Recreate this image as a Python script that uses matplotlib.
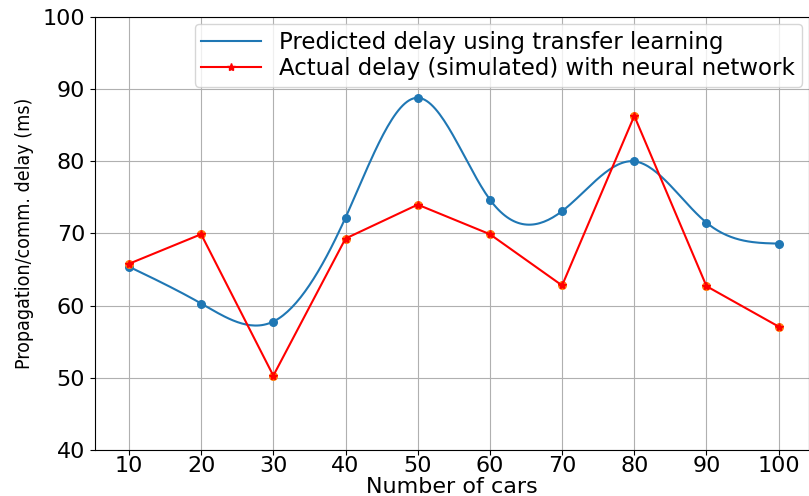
import numpy as np
import matplotlib
matplotlib.use("Agg")
import matplotlib.pyplot as plt

cars = [10, 20, 30, 40, 50, 60, 70, 80, 90, 100]
predicted_delay = [65.4, 60.3, 57.8, 72.2, 88.8, 74.7, 73.1, 80.0, 71.5, 68.6]
actual_delay = [65.8, 69.9, 50.3, 69.3, 74.0, 69.9, 62.8, 86.3, 62.7, 57.1]


def smooth_curve(x, y, num=300):
    # natural cubic spline through evenly spaced points
    x = np.asarray(x, float)
    y = np.asarray(y, float)
    n = len(x)
    h = x[1] - x[0]
    A = np.zeros((n, n))
    b = np.zeros(n)
    A[0, 0] = 1
    A[-1, -1] = 1
    for i in range(1, n - 1):
        A[i, i - 1:i + 2] = [1, 4, 1]
        b[i] = 6.0 / h**2 * (y[i - 1] - 2 * y[i] + y[i + 1])
    M = np.linalg.solve(A, b)
    xs = np.linspace(x[0], x[-1], num)
    idx = np.clip(((xs - x[0]) // h).astype(int), 0, n - 2)
    x0, x1 = x[idx], x[idx + 1]
    ys = (M[idx] * (x1 - xs)**3 / (6 * h) + M[idx + 1] * (xs - x0)**3 / (6 * h)
          + (y[idx] / h - M[idx] * h / 6) * (x1 - xs)
          + (y[idx + 1] / h - M[idx + 1] * h / 6) * (xs - x0))
    return xs, ys


fig = plt.figure(figsize=(8.09, 4.96), dpi=100)
ax = fig.add_axes([95 / 809, 46 / 496, 714 / 809, 433 / 496])

xs, ys = smooth_curve(cars, predicted_delay)
ax.scatter(cars, predicted_delay, color="C0", s=30, zorder=3)
ax.scatter(cars, actual_delay, color="C1", s=30, zorder=3)
ax.plot(xs, ys, color="C0", linewidth=1.5, label="Predicted delay using transfer learning")
ax.plot(cars, actual_delay, "r-*", linewidth=1.5, markersize=6, zorder=4,
        label="Actual delay (simulated) with neural network")

ax.set_xlim(5.3, 104.2)
ax.set_ylim(40, 100)
ax.set_xticks(cars)
ax.grid(True)
ax.tick_params(labelsize=16)
ax.tick_params(axis="x", pad=1)
ax.set_xlabel("Number of cars", fontsize=16)
ax.xaxis.set_label_coords(0.5, -0.062)
ax.set_ylabel("Propagation/comm. delay (ms)", fontsize=14, fontstretch="condensed", labelpad=6)
ax.legend(loc="upper right", fontsize=16.5, borderaxespad=0.3, borderpad=0.3,
          labelspacing=0.15, handlelength=2.6)

fig.savefig("out.png", dpi=100)
